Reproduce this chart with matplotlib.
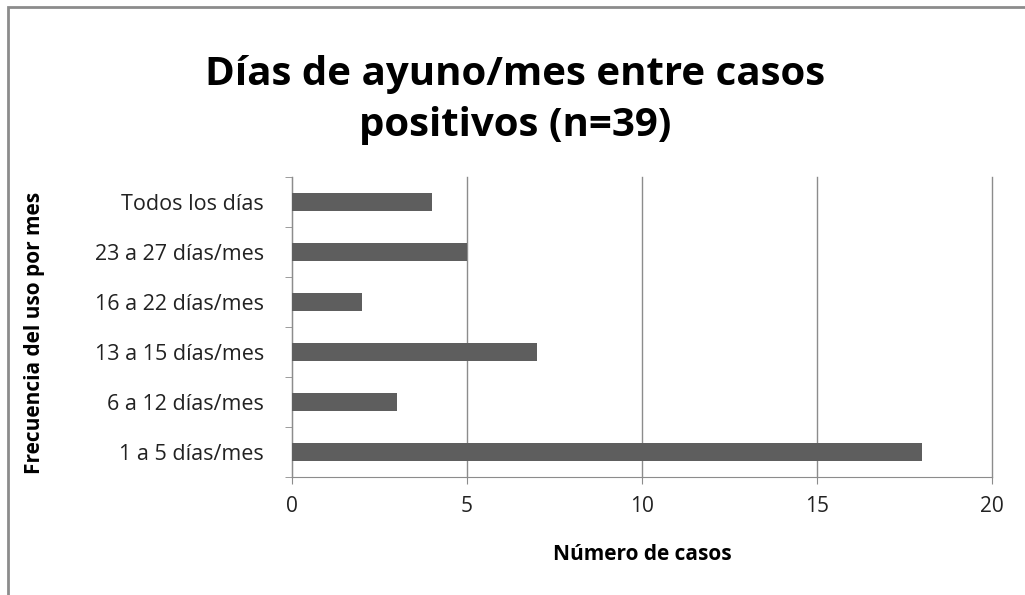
import matplotlib.pyplot as plt
from matplotlib.patches import Rectangle

categorias = ['1 a 5 días/mes', '6 a 12 días/mes', '13 a 15 días/mes',
              '16 a 22 días/mes', '23 a 27 días/mes', 'Todos los días']
casos = [18, 3, 7, 2, 5, 4]
xticks = [0, 5, 10, 15, 20]

plt.rcParams['font.family'] = ['Open Sans', 'DejaVu Sans']

fig = plt.figure(figsize=(10.25, 5.95), dpi=100)
ax = fig.add_axes([292 / 1025, 1 - 477 / 595, 700 / 1025, 300 / 595])

# marco del gráfico
fig.patches.append(Rectangle((8 / 1025, -0.1), 1.2, 1 - 7 / 595 + 0.1,
                             transform=fig.transFigure, fill=False,
                             edgecolor='#8c8c8c', linewidth=2))

y = range(len(categorias))
ax.barh(y, casos, height=0.36, color='#5e5e5e', zorder=3)

ax.set_xlim(0, 20)
ax.set_ylim(-0.5, len(categorias) - 0.5)
ax.set_xticks(xticks)
ax.set_yticks(list(y))
ax.set_yticklabels(categorias)
ax.set_yticks([i - 0.5 for i in range(len(categorias) + 1)], minor=True)

ax.grid(axis='x', color='#8c8c8c', linewidth=1, zorder=0)
for line in ax.get_xgridlines():
    line.set_clip_on(False)
for s in ['top', 'right']:
    ax.spines[s].set_visible(False)
for s in ['left', 'bottom']:
    ax.spines[s].set_color('#8c8c8c')

ax.tick_params(axis='x', length=5, color='#8c8c8c', labelsize=15, pad=9, labelcolor='#222222')
ax.tick_params(axis='y', which='major', length=0, labelsize=15.5, pad=20, labelcolor='#222222')
ax.tick_params(axis='y', which='minor', length=5, color='#8c8c8c')

ax.set_xlabel('Número de casos', fontsize=15, fontweight='bold', labelpad=19)
fig.text(35 / 1025, 1 - 333 / 595, 'Frecuencia del uso por mes', rotation=90,
         fontsize=15, fontweight='bold', ha='center', va='center')

fig.text(515 / 1025, 1 - 100 / 595, 'Días de ayuno/mes entre casos\npositivos (n=39)',
         fontsize=29, fontweight='bold', ha='center', va='center', linespacing=1.38)

fig.savefig('out.png', dpi=100, facecolor='white')
